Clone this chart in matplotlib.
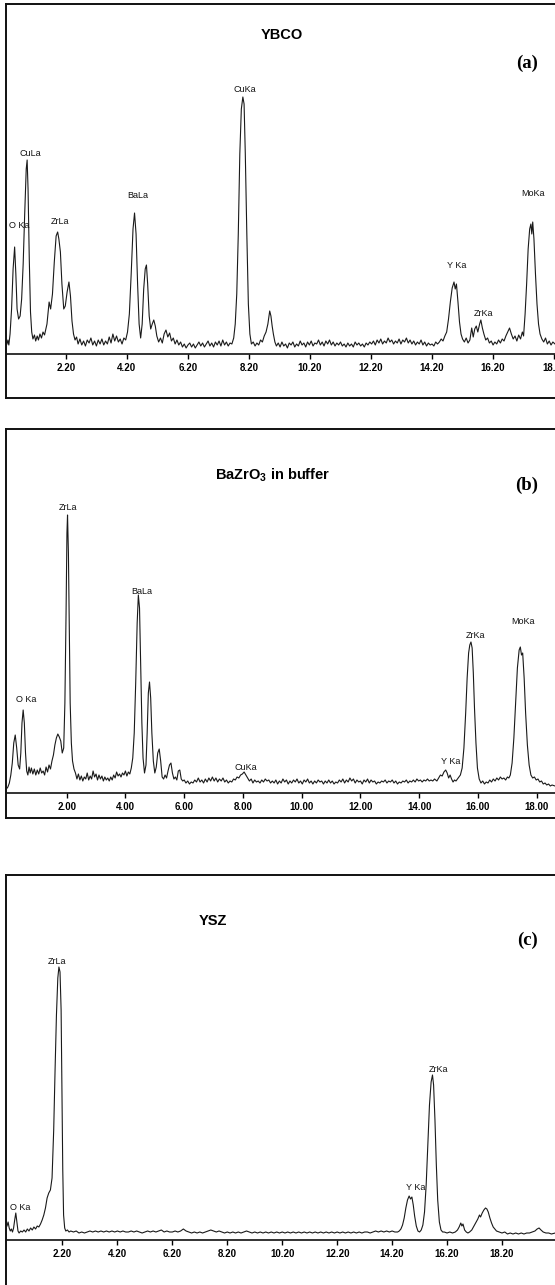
"""EDS spectra of the YBCO / BaZrO3-in-buffer / YSZ layers, three stacked panels."""

import matplotlib

matplotlib.use("Agg")
import matplotlib.pyplot as plt
import numpy as np

W, H = 555, 1285

plt.rcParams["mathtext.fontset"] = "custom"
plt.rcParams["mathtext.rm"] = "Liberation Sans:bold"

# ---------------------------------------------------------------- data
# (energy keV, counts a.u.)
SPEC_A = [
    (0.27, 10), (0.30, 14), (0.33, 9), (0.37, 20), (0.42, 45), (0.47, 85), (0.52, 107),
    (0.56, 80), (0.60, 45), (0.65, 35), (0.70, 38), (0.75, 55), (0.80, 90), (0.85, 140),
    (0.90, 185), (0.93, 194), (0.96, 165), (1.00, 95), (1.04, 42), (1.08, 22), (1.12, 15),
    (1.17, 19), (1.21, 13), (1.26, 18), (1.30, 14), (1.35, 20), (1.40, 16), (1.45, 22),
    (1.50, 19), (1.58, 30), (1.65, 52), (1.70, 45), (1.76, 60), (1.82, 92), (1.88, 118),
    (1.93, 122), (1.97, 115), (2.02, 102), (2.07, 70), (2.13, 45), (2.18, 48), (2.24, 62),
    (2.30, 72), (2.35, 58), (2.40, 33), (2.45, 20), (2.50, 14), (2.55, 17), (2.60, 10),
    (2.66, 15), (2.72, 9), (2.78, 13), (2.84, 8), (2.90, 14), (2.96, 11), (3.02, 16),
    (3.08, 9), (3.14, 13), (3.20, 8), (3.26, 14), (3.32, 10), (3.38, 15), (3.44, 9),
    (3.50, 13), (3.56, 10), (3.62, 17), (3.68, 11), (3.74, 20), (3.80, 13), (3.86, 18),
    (3.92, 12), (3.98, 15), (4.04, 10), (4.10, 16), (4.16, 14), (4.22, 22), (4.28, 40),
    (4.34, 80), (4.40, 125), (4.45, 141), (4.50, 120), (4.55, 70), (4.60, 30), (4.65, 16),
    (4.70, 30), (4.75, 65), (4.80, 85), (4.84, 89), (4.88, 70), (4.93, 38), (4.98, 25),
    (5.03, 30), (5.08, 34), (5.13, 28), (5.18, 18), (5.24, 12), (5.30, 16), (5.36, 11),
    (5.42, 20), (5.48, 24), (5.54, 17), (5.60, 21), (5.66, 13), (5.72, 16), (5.78, 10),
    (5.84, 14), (5.90, 9), (5.96, 12), (6.02, 7), (6.08, 10), (6.14, 6), (6.20, 9),
    (6.26, 11), (6.32, 7), (6.38, 10), (6.44, 6), (6.50, 9), (6.56, 12), (6.62, 8),
    (6.68, 11), (6.74, 7), (6.80, 10), (6.86, 13), (6.92, 8), (6.98, 11), (7.04, 7),
    (7.10, 12), (7.16, 9), (7.22, 13), (7.28, 8), (7.34, 14), (7.40, 9), (7.46, 12),
    (7.52, 8), (7.58, 11), (7.64, 10), (7.70, 16), (7.75, 30), (7.80, 60), (7.85, 120),
    (7.90, 200), (7.95, 245), (8.00, 257), (8.04, 250), (8.08, 200), (8.13, 120), (8.18, 50),
    (8.23, 20), (8.28, 10), (8.34, 12), (8.40, 8), (8.46, 11), (8.52, 9), (8.58, 14),
    (8.64, 12), (8.70, 18), (8.76, 22), (8.82, 30), (8.88, 43), (8.92, 38), (8.96, 28),
    (9.00, 20), (9.05, 12), (9.10, 8), (9.16, 11), (9.22, 7), (9.28, 12), (9.34, 8),
    (9.40, 10), (9.46, 6), (9.52, 11), (9.58, 9), (9.64, 12), (9.70, 7), (9.76, 10),
    (9.82, 8), (9.88, 13), (9.94, 9), (10.00, 11), (10.06, 7), (10.12, 12), (10.18, 9),
    (10.24, 13), (10.30, 8), (10.36, 11), (10.42, 10), (10.48, 14), (10.54, 9), (10.60, 12),
    (10.66, 8), (10.72, 13), (10.78, 10), (10.84, 14), (10.90, 9), (10.96, 12), (11.02, 8),
    (11.08, 11), (11.14, 9), (11.20, 12), (11.26, 8), (11.32, 10), (11.38, 7), (11.44, 11),
    (11.50, 8), (11.56, 10), (11.62, 7), (11.68, 12), (11.74, 9), (11.80, 11), (11.86, 8),
    (11.92, 10), (11.98, 7), (12.04, 11), (12.10, 9), (12.16, 12), (12.22, 10), (12.28, 13),
    (12.34, 9), (12.40, 14), (12.46, 11), (12.52, 15), (12.58, 10), (12.64, 13), (12.70, 11),
    (12.76, 16), (12.82, 12), (12.88, 14), (12.94, 10), (13.00, 13), (13.06, 11), (13.12, 15),
    (13.18, 10), (13.24, 14), (13.30, 12), (13.36, 16), (13.42, 11), (13.48, 14), (13.54, 10),
    (13.60, 13), (13.66, 9), (13.72, 12), (13.78, 10), (13.84, 14), (13.90, 9), (13.96, 12),
    (14.02, 8), (14.08, 11), (14.14, 9), (14.20, 10), (14.26, 8), (14.32, 12), (14.38, 10),
    (14.44, 12), (14.50, 15), (14.56, 13), (14.62, 18), (14.68, 22), (14.74, 35), (14.80, 52),
    (14.86, 66), (14.92, 72), (14.96, 65), (15.00, 70), (15.05, 52), (15.10, 32), (15.15, 20),
    (15.20, 15), (15.26, 12), (15.32, 16), (15.38, 11), (15.44, 14), (15.50, 26), (15.55, 17),
    (15.60, 25), (15.65, 28), (15.70, 22), (15.76, 30), (15.80, 34), (15.85, 26), (15.90, 20),
    (15.96, 14), (16.02, 16), (16.08, 11), (16.14, 13), (16.20, 9), (16.26, 12), (16.32, 10),
    (16.38, 14), (16.44, 11), (16.50, 15), (16.56, 13), (16.62, 18), (16.68, 22), (16.74, 26),
    (16.80, 20), (16.86, 15), (16.92, 18), (16.98, 13), (17.04, 19), (17.10, 15), (17.16, 22),
    (17.20, 18), (17.25, 40), (17.30, 70), (17.35, 105), (17.40, 125), (17.44, 130),
    (17.47, 120), (17.50, 132), (17.54, 115), (17.59, 80), (17.64, 50), (17.69, 30),
    (17.74, 20), (17.80, 15), (17.86, 12), (17.92, 16), (17.98, 10), (18.04, 13), (18.10, 9),
    (18.16, 12), (18.23, 10),
]

SPEC_B = [
    (-0.05, 4), (0.00, 6), (0.05, 10), (0.10, 18), (0.15, 30), (0.20, 50), (0.25, 58),
    (0.30, 45), (0.35, 28), (0.40, 24), (0.44, 40), (0.48, 70), (0.52, 83), (0.56, 70),
    (0.60, 40), (0.64, 22), (0.68, 18), (0.72, 26), (0.76, 20), (0.80, 25), (0.85, 19),
    (0.90, 24), (0.95, 18), (1.00, 23), (1.05, 19), (1.10, 25), (1.15, 20), (1.20, 22),
    (1.25, 18), (1.30, 26), (1.35, 21), (1.40, 28), (1.45, 24), (1.50, 32), (1.55, 38),
    (1.60, 48), (1.65, 55), (1.70, 59), (1.75, 56), (1.80, 52), (1.85, 40), (1.90, 45),
    (1.94, 90), (1.98, 180), (2.01, 260), (2.03, 278), (2.06, 240), (2.09, 160), (2.12, 90),
    (2.16, 50), (2.20, 32), (2.25, 24), (2.30, 20), (2.35, 14), (2.40, 19), (2.45, 13),
    (2.50, 17), (2.55, 12), (2.60, 16), (2.65, 14), (2.70, 20), (2.75, 13), (2.80, 17),
    (2.85, 14), (2.90, 22), (2.95, 16), (3.00, 19), (3.05, 13), (3.10, 18), (3.15, 14),
    (3.20, 17), (3.25, 12), (3.30, 16), (3.35, 13), (3.40, 15), (3.45, 12), (3.50, 16),
    (3.55, 13), (3.60, 18), (3.65, 15), (3.70, 21), (3.75, 17), (3.80, 19), (3.85, 16),
    (3.90, 20), (3.95, 18), (4.00, 22), (4.05, 17), (4.10, 21), (4.15, 19), (4.20, 25),
    (4.25, 35), (4.30, 60), (4.35, 110), (4.40, 170), (4.44, 198), (4.48, 185), (4.52, 130),
    (4.56, 70), (4.60, 35), (4.65, 20), (4.70, 28), (4.74, 60), (4.78, 100), (4.82, 111),
    (4.86, 95), (4.90, 60), (4.95, 32), (5.00, 20), (5.05, 26), (5.10, 40), (5.15, 44),
    (5.20, 32), (5.25, 16), (5.30, 14), (5.35, 18), (5.40, 15), (5.45, 22), (5.50, 28),
    (5.55, 30), (5.60, 20), (5.65, 14), (5.70, 16), (5.75, 13), (5.80, 22), (5.85, 23),
    (5.90, 14), (5.95, 12), (6.00, 13), (6.06, 10), (6.12, 12), (6.18, 9), (6.24, 11),
    (6.30, 10), (6.36, 13), (6.42, 11), (6.48, 15), (6.54, 11), (6.60, 13), (6.66, 10),
    (6.72, 14), (6.78, 11), (6.84, 15), (6.90, 12), (6.96, 16), (7.02, 12), (7.08, 15),
    (7.14, 11), (7.20, 14), (7.26, 12), (7.32, 15), (7.38, 11), (7.44, 13), (7.50, 10),
    (7.56, 12), (7.62, 11), (7.68, 14), (7.74, 13), (7.80, 16), (7.86, 15), (7.92, 18),
    (7.98, 19), (8.04, 21), (8.10, 18), (8.16, 15), (8.22, 12), (8.28, 14), (8.34, 10),
    (8.40, 13), (8.46, 11), (8.52, 12), (8.58, 10), (8.64, 13), (8.70, 11), (8.76, 14),
    (8.82, 12), (8.88, 13), (8.94, 10), (9.00, 12), (9.06, 10), (9.12, 13), (9.18, 9),
    (9.24, 12), (9.30, 10), (9.36, 14), (9.42, 11), (9.48, 13), (9.54, 9), (9.60, 12),
    (9.66, 10), (9.72, 13), (9.78, 11), (9.84, 14), (9.90, 10), (9.96, 12), (10.02, 9),
    (10.08, 13), (10.14, 11), (10.20, 14), (10.26, 10), (10.32, 12), (10.38, 9), (10.44, 12),
    (10.50, 10), (10.56, 13), (10.62, 11), (10.68, 12), (10.74, 9), (10.80, 12), (10.86, 10),
    (10.92, 13), (10.98, 10), (11.04, 12), (11.10, 9), (11.16, 11), (11.22, 10), (11.28, 13),
    (11.34, 11), (11.40, 14), (11.46, 10), (11.52, 13), (11.58, 11), (11.64, 15), (11.70, 12),
    (11.76, 14), (11.82, 10), (11.88, 13), (11.94, 11), (12.00, 12), (12.06, 9), (12.12, 13),
    (12.18, 11), (12.24, 14), (12.30, 10), (12.36, 13), (12.42, 11), (12.48, 12), (12.54, 9),
    (12.60, 11), (12.66, 10), (12.72, 12), (12.78, 11), (12.84, 13), (12.90, 10), (12.96, 12),
    (13.02, 11), (13.08, 13), (13.14, 10), (13.20, 12), (13.26, 9), (13.32, 11), (13.38, 10),
    (13.44, 12), (13.50, 11), (13.56, 13), (13.62, 10), (13.68, 12), (13.74, 11), (13.80, 13),
    (13.86, 11), (13.92, 14), (13.98, 12), (14.04, 13), (14.10, 11), (14.16, 13), (14.22, 12),
    (14.28, 14), (14.34, 12), (14.40, 13), (14.46, 12), (14.52, 14), (14.60, 12), (14.66, 15),
    (14.72, 18), (14.78, 17), (14.84, 21), (14.90, 23), (14.95, 20), (15.00, 15), (15.05, 18),
    (15.10, 14), (15.15, 11), (15.20, 13), (15.25, 12), (15.30, 14), (15.35, 16), (15.40, 18),
    (15.46, 25), (15.52, 45), (15.58, 80), (15.63, 115), (15.68, 140), (15.72, 148),
    (15.76, 151), (15.80, 145), (15.84, 120), (15.88, 85), (15.93, 50), (15.98, 25),
    (16.04, 14), (16.10, 10), (16.16, 12), (16.22, 9), (16.28, 11), (16.34, 10), (16.40, 13),
    (16.46, 11), (16.52, 14), (16.58, 12), (16.64, 15), (16.70, 13), (16.76, 16), (16.82, 14),
    (16.88, 15), (16.94, 13), (17.00, 16), (17.05, 15), (17.10, 18), (17.16, 30), (17.22, 55),
    (17.28, 90), (17.34, 125), (17.40, 143), (17.44, 146), (17.48, 138), (17.52, 140),
    (17.57, 115), (17.62, 80), (17.68, 48), (17.74, 28), (17.80, 18), (17.86, 15), (17.92, 16),
    (17.98, 13), (18.04, 14), (18.10, 11), (18.16, 12), (18.22, 9), (18.28, 10), (18.34, 8),
    (18.40, 9), (18.46, 7), (18.52, 8), (18.62, 7),
]

SPEC_C = [
    (0.18, 14), (0.22, 18), (0.26, 12), (0.30, 9), (0.34, 11), (0.38, 8), (0.42, 12),
    (0.46, 20), (0.50, 27), (0.54, 18), (0.58, 9), (0.62, 7), (0.68, 9), (0.74, 8),
    (0.80, 10), (0.86, 8), (0.92, 11), (0.98, 9), (1.04, 12), (1.10, 10), (1.16, 13),
    (1.22, 11), (1.28, 14), (1.34, 13), (1.40, 16), (1.46, 20), (1.52, 25), (1.58, 32),
    (1.64, 42), (1.70, 47), (1.76, 50), (1.82, 62), (1.88, 110), (1.93, 170), (1.98, 225),
    (2.03, 262), (2.07, 273), (2.11, 268), (2.15, 230), (2.18, 150), (2.21, 70), (2.24, 25),
    (2.28, 12), (2.32, 9), (2.38, 10), (2.44, 8), (2.50, 9), (2.60, 8), (2.70, 9),
    (2.80, 7), (2.90, 8), (3.00, 7), (3.10, 8), (3.20, 9), (3.30, 8), (3.40, 9), (3.50, 8),
    (3.60, 9), (3.70, 8), (3.80, 9), (3.90, 8), (4.00, 9), (4.10, 8), (4.20, 9), (4.30, 8),
    (4.40, 9), (4.50, 8), (4.60, 8), (4.70, 9), (4.80, 8), (4.90, 9), (5.00, 8), (5.10, 7),
    (5.20, 8), (5.30, 9), (5.40, 8), (5.50, 9), (5.60, 8), (5.70, 9), (5.80, 10), (5.90, 8),
    (6.00, 9), (6.10, 8), (6.20, 8), (6.30, 9), (6.40, 8), (6.50, 9), (6.60, 11), (6.70, 9),
    (6.80, 8), (6.90, 7), (7.00, 8), (7.10, 7), (7.20, 8), (7.30, 7), (7.40, 8), (7.50, 9),
    (7.60, 10), (7.70, 9), (7.80, 8), (7.90, 9), (8.00, 8), (8.10, 7), (8.20, 8), (8.30, 7),
    (8.40, 8), (8.50, 7), (8.60, 8), (8.70, 7), (8.80, 8), (8.90, 9), (9.00, 8), (9.10, 7),
    (9.20, 8), (9.30, 7), (9.40, 8), (9.50, 7), (9.60, 8), (9.70, 7), (9.80, 8), (9.90, 7),
    (10.00, 8), (10.10, 7), (10.20, 8), (10.30, 7), (10.40, 8), (10.50, 7), (10.60, 8),
    (10.70, 7), (10.80, 8), (10.90, 7), (11.00, 8), (11.10, 7), (11.20, 8), (11.30, 7),
    (11.40, 8), (11.50, 7), (11.60, 8), (11.70, 7), (11.80, 8), (11.90, 7), (12.00, 8),
    (12.10, 7), (12.20, 8), (12.30, 7), (12.40, 8), (12.50, 7), (12.60, 8), (12.70, 7),
    (12.80, 8), (12.90, 7), (13.00, 8), (13.10, 7), (13.20, 8), (13.30, 8), (13.40, 7),
    (13.50, 8), (13.60, 9), (13.70, 8), (13.80, 9), (13.90, 8), (14.00, 9), (14.10, 8),
    (14.20, 9), (14.30, 8), (14.40, 8), (14.46, 9), (14.52, 11), (14.58, 15), (14.64, 22),
    (14.70, 32), (14.76, 40), (14.82, 44), (14.87, 41), (14.92, 43), (14.97, 35), (15.02, 24),
    (15.08, 14), (15.14, 9), (15.20, 8), (15.26, 10), (15.32, 15), (15.38, 28), (15.44, 55),
    (15.50, 95), (15.56, 135), (15.62, 158), (15.67, 165), (15.71, 155), (15.76, 120),
    (15.81, 75), (15.86, 40), (15.92, 18), (15.98, 10), (16.04, 8), (16.10, 8), (16.20, 7),
    (16.30, 8), (16.40, 7), (16.50, 8), (16.58, 10), (16.64, 13), (16.70, 17), (16.74, 14),
    (16.78, 16), (16.84, 10), (16.90, 8), (16.96, 7), (17.02, 8), (17.10, 10), (17.18, 14),
    (17.26, 18), (17.32, 21), (17.38, 25), (17.42, 23), (17.48, 27), (17.54, 30), (17.60, 32),
    (17.65, 31), (17.70, 28), (17.76, 22), (17.82, 17), (17.88, 13), (17.94, 11), (18.00, 9),
    (18.10, 8), (18.20, 7), (18.30, 8), (18.40, 6), (18.50, 7), (18.60, 6), (18.70, 7),
    (18.80, 6), (18.90, 7), (19.00, 6), (19.10, 7), (19.20, 7), (19.30, 8), (19.40, 9),
    (19.48, 11), (19.55, 12), (19.62, 10), (19.70, 8), (19.80, 7), (19.90, 7), (20.00, 6),
    (20.14, 7),
]

PEAK_NAMES_A = ["O Ka", "CuLa", "ZrLa", "BaLa", "CuKa", "Y Ka", "ZrKa", "MoKa"]
PEAK_KEV_A = [0.66, 1.05, 2.00, 4.56, 8.07, 15.02, 15.90, 17.51]
PEAK_CNT_A = [128, 200, 132, 158, 264, 89, 41, 161]

PEAK_NAMES_B = ["O Ka", "ZrLa", "BaLa", "CuKa", "Y Ka", "ZrKa", "MoKa"]
PEAK_KEV_B = [0.62, 2.05, 4.57, 8.10, 15.08, 15.90, 17.53]
PEAK_CNT_B = [93, 286, 202, 26, 31, 158, 171]

PEAK_NAMES_C = ["O Ka", "ZrLa", "Y Ka", "ZrKa"]
PEAK_KEV_C = [0.65, 2.00, 15.05, 15.88]
PEAK_CNT_C = [33, 279, 53, 171]

TICKS_A = [2.2, 4.2, 6.2, 8.2, 10.2, 12.2, 14.2, 16.2, 18.2]
TICKS_B = [2.0, 4.0, 6.0, 8.0, 10.0, 12.0, 14.0, 16.0, 18.0]
TICKS_C = [2.2, 4.2, 6.2, 8.2, 10.2, 12.2, 14.2, 16.2, 18.2]

TITLES = ["YBCO", "BaZrO$_3$ in buffer", "YSZ"]
TAGS = ["(a)", "(b)", "(c)"]

LINE = "#1a1a1a"
TICK_FONT = ["Liberation Sans Narrow", "Liberation Sans", "DejaVu Sans"]


def panel(fig, box_top, box_bottom, axis_y, xlim, spec, ticks,
          names, kevs, cnts, title, title_xy, tag, tag_y):
    # outer box (right side runs off the page)
    frame = fig.add_axes([6 / W, 1 - box_bottom / H, 1.2, (box_bottom - box_top) / H])
    frame.set_xticks([])
    frame.set_yticks([])
    frame.spines["right"].set_visible(False)
    for s in ("top", "left", "bottom"):
        frame.spines[s].set_linewidth(1.4)
        frame.spines[s].set_color("#111111")

    ax = fig.add_axes([7 / W, 1 - axis_y / H, (W - 7) / W, (axis_y - box_top) / H])
    ax.patch.set_alpha(0)
    kev, cnt = np.array(spec).T
    ax.plot(kev, cnt, color=LINE, lw=0.8)
    ax.set_xlim(*xlim)
    ax.set_ylim(0, axis_y - box_top)
    for s in ("top", "left", "right"):
        ax.spines[s].set_visible(False)
    ax.spines["bottom"].set_linewidth(1.2)
    ax.spines["bottom"].set_color("#111111")
    ax.set_yticks([])
    ax.set_xticks(ticks)
    ax.set_xticklabels([f"{t:.2f}" for t in ticks], family=TICK_FONT,
                       fontweight="bold", fontsize=7)
    ax.tick_params(axis="x", direction="out", length=3.5, width=1, pad=3)

    for n, x, y in zip(names, kevs, cnts):
        ax.text(x, y, n, ha="center", va="center", fontsize=6.5,
                family="Liberation Sans", color="#111111")

    fig.text(title_xy[0] / W, 1 - title_xy[1] / H, title, ha="center", va="center",
             fontsize=10.5, fontweight="bold", family="Liberation Sans")
    fig.text(527 / W, 1 - tag_y / H, tag, ha="center", va="center",
             fontsize=13.5, fontweight="bold", family="Liberation Serif")


def main() -> None:
    fig = plt.figure(figsize=(W / 100, H / 100), dpi=100)
    fig.patch.set_facecolor("white")

    panel(fig, 4, 398, 354, (0.27, 18.23), SPEC_A, TICKS_A,
          PEAK_NAMES_A, PEAK_KEV_A, PEAK_CNT_A, TITLES[0], (282, 35), TAGS[0], 63)
    panel(fig, 429, 818, 793, (-0.03, 18.62), SPEC_B, TICKS_B,
          PEAK_NAMES_B, PEAK_KEV_B, PEAK_CNT_B, TITLES[1], (273, 475), TAGS[1], 485)
    panel(fig, 875, 1300, 1240, (0.18, 20.13), SPEC_C, TICKS_C,
          PEAK_NAMES_C, PEAK_KEV_C, PEAK_CNT_C, TITLES[2], (213, 921), TAGS[2], 940)

    fig.savefig("out.png", dpi=100)


if __name__ == "__main__":
    main()
